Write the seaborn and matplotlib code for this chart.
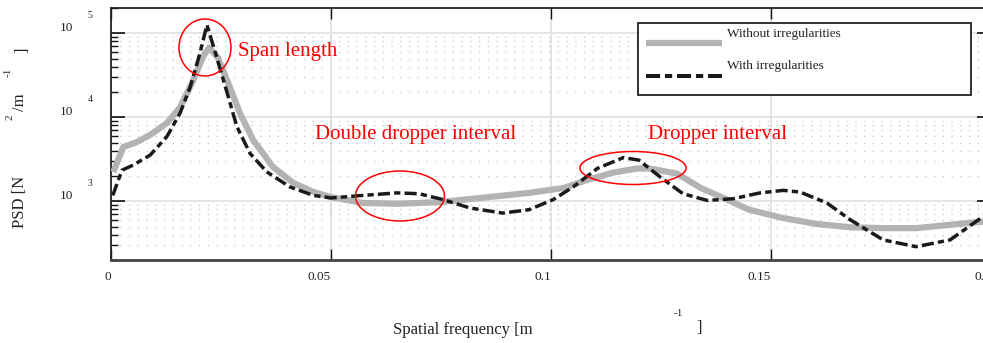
import numpy as np
import matplotlib
matplotlib.use("Agg")
import matplotlib.pyplot as plt
import matplotlib.transforms as mtransforms
from matplotlib.patches import Ellipse, Rectangle
from matplotlib.lines import Line2D
from matplotlib.ticker import LogLocator, NullFormatter
import seaborn as sns

# Spatial frequency [1/m] and contact-force PSD [N^2/m]
freq_smooth = [0.0005, 0.0028, 0.0059, 0.0089, 0.0127, 0.0157, 0.0187, 0.0209, 0.0223,
               0.0243, 0.0270, 0.0293, 0.0323, 0.0368, 0.0414, 0.0460, 0.0500, 0.0573,
               0.0650, 0.0748, 0.0840, 0.0950, 0.1030, 0.1080, 0.1140, 0.1195, 0.1225,
               0.1286, 0.1340, 0.1400, 0.1450, 0.1528, 0.1604, 0.1680, 0.1755, 0.1830,
               0.1907, 0.1985]
psd_smooth = [2230, 4430, 5080, 6170, 8510, 13180, 27540, 52480, 67600,
              51290, 22910, 11220, 5370, 2570, 1660, 1290, 1120, 955,
              933, 977, 1096, 1259, 1445, 1778, 2188, 2455, 2455,
              2138, 1445, 1047, 794, 631, 537, 490, 479, 479,
              525, 575]

freq_irreg = [0.0004, 0.0025, 0.0050, 0.0089, 0.0127, 0.0157, 0.0180, 0.0202, 0.0218,
              0.0240, 0.0264, 0.0286, 0.0316, 0.0354, 0.0407, 0.0460, 0.0500, 0.0573,
              0.0650, 0.0700, 0.0755, 0.0816, 0.0890, 0.0950, 0.1005, 0.1050, 0.1105,
              0.1164, 0.1200, 0.1248, 0.1300, 0.1355, 0.1414, 0.1475, 0.1528, 0.1566,
              0.1627, 0.1680, 0.1755, 0.1830, 0.1907, 0.1985]
psd_irreg = [1175, 2344, 2692, 3548, 5888, 11220, 22910, 57540, 125900,
             52480, 19500, 7762, 3715, 2239, 1479, 1175, 1096, 1175,
             1259, 1230, 1047, 832, 724, 794, 1047, 1479, 2455,
             3311, 3090, 1950, 1230, 1023, 1072, 1259, 1349, 1288,
             955, 603, 347, 288, 347, 676]

series_labels = ["Without irregularities", "With irregularities"]
x_ticks = [0, 0.05, 0.1, 0.15, 0.2]
x_tick_labels = ["0", "0.05", "0.1", "0.15", "0.2"]
y_decades = [3, 4, 5]
notes = ["Span length", "Double dropper interval", "Dropper interval"]

sns.set_style("ticks")
plt.rcParams["font.family"] = ["Liberation Serif", "DejaVu Serif"]
plt.rcParams["mathtext.fontset"] = "stix"

W, H = 983, 343
fig = plt.figure(figsize=(W / 100, H / 100), dpi=100)
ax = fig.add_axes([111 / W, 1 - 260 / H, 880 / W, 252 / H])

GRAY = "#b3b3b3"
BLACK = "#1a1a1a"
DASH = (0, (3.5, 1.2, 1.8, 1.2))

sns.lineplot(x=freq_smooth, y=psd_smooth, ax=ax, color=GRAY, linewidth=4.5,
             solid_capstyle="butt", zorder=3)
sns.lineplot(x=freq_irreg, y=psd_irreg, ax=ax, color=BLACK, linewidth=2.5,
             linestyle=DASH, zorder=4)

ax.set_yscale("log")
ax.set_xlim(0, 0.2)
ax.set_ylim(200, 2e5)
ax.yaxis.set_minor_locator(LogLocator(base=10, subs=np.arange(2, 10)))
ax.yaxis.set_minor_formatter(NullFormatter())

ax.set_xticks(x_ticks)
ax.set_xticklabels(x_tick_labels, fontsize=9.5, color="#222222")
for lab in ax.get_xticklabels():
    lab.set_ha("right")
ax.set_yticks([10.0 ** d for d in y_decades])

ax.tick_params(axis="x", which="major", direction="in", length=8, width=1.0,
               top=True, bottom=True, pad=8, color="#111111")
ax.tick_params(axis="y", which="major", direction="in", length=10, width=1.2,
               left=True, right=True, labelleft=False, color="#111111")
ax.tick_params(axis="y", which="minor", direction="in", length=5, width=1.0,
               left=True, right=True, color="#111111")

ax.grid(which="major", axis="both", color="#e2e2e2", linewidth=1.3, linestyle="-", zorder=0)
ax.grid(which="minor", axis="y", color="#c4c4c4", linewidth=0.9,
        linestyle=(0, (1, 6)), zorder=0)
ax.set_axisbelow(True)

for side, sp in ax.spines.items():
    sp.set_color("#222222")
    sp.set_linewidth(1.3)
ax.spines["bottom"].set_linewidth(2.0)
ax.spines["bottom"].set_color("#444444")

# y tick labels written as "10" with a raised exponent
blend = mtransforms.blended_transform_factory(ax.transAxes, ax.transData)
for d in y_decades:
    base_tr = blend + mtransforms.ScaledTranslation(0, 5 / 100, fig.dpi_scale_trans)
    exp_tr = blend + mtransforms.ScaledTranslation(0, 18 / 100, fig.dpi_scale_trans)
    ax.text(-45 / 880, 10.0 ** d, "10", transform=base_tr, ha="center", va="center",
            fontsize=9.5, color="#222222", clip_on=False)
    ax.text(-21 / 880, 10.0 ** d, str(d), transform=exp_tr, ha="center", va="center",
            fontsize=7, color="#222222", clip_on=False)

# axis titles made of separate pieces
def ftext(px, py, s, **kw):
    fig.text(px / W, 1 - py / H, s, **kw)

ftext(20, 202, "PSD [N", rotation=90, ha="center", va="center", fontsize=12, color="#222222")
ftext(10, 117, "2", rotation=90, ha="center", va="center", fontsize=8, color="#222222")
ftext(20, 102, "/m", rotation=90, ha="center", va="center", fontsize=12, color="#222222")
ftext(8, 72, "-1", rotation=90, ha="center", va="center", fontsize=8, color="#222222")
ftext(22, 50, "]", rotation=90, ha="center", va="center", fontsize=12, color="#222222")

ftext(463, 330, "Spatial frequency [m", ha="center", va="center", fontsize=12, color="#222222")
ftext(678, 313, "-1", ha="center", va="center", fontsize=8, color="#222222")
ftext(699, 328, "]", ha="center", va="center", fontsize=12, color="#222222")

# highlighted regions
for (cx, cy, w, h) in [(0.1068, 0.8433, 0.0591, 0.2262),
                       (0.3284, 0.2540, 0.1011, 0.1984),
                       (0.5932, 0.3651, 0.1205, 0.1310)]:
    ax.add_patch(Ellipse((cx, cy), w, h, transform=ax.transAxes, fill=False,
                         edgecolor="red", linewidth=1.1, zorder=6))
for (tx, ty), s in zip([(0.1443, 0.8095), (0.2318, 0.480), (0.610, 0.480)], notes):
    ax.text(tx, ty, s, transform=ax.transAxes, color="red", fontsize=15,
            ha="left", va="baseline", zorder=6)

# legend box
ax.add_patch(Rectangle((0.5989, 0.6548), 0.3784, 0.2857, transform=ax.transAxes,
                       facecolor="white", edgecolor="#222222", linewidth=1.3, zorder=7))
ax.add_line(Line2D([0.6080, 0.6943], [0.861, 0.861], transform=ax.transAxes,
                   color=GRAY, linewidth=4.5, solid_capstyle="butt", zorder=8))
ax.add_line(Line2D([0.6080, 0.6943], [0.7313, 0.7313], transform=ax.transAxes,
                   color=BLACK, linewidth=2.9, linestyle=DASH, zorder=8))
ax.text(0.700, 0.886, series_labels[0], transform=ax.transAxes, fontsize=9.5,
        va="baseline", ha="left", color="#222222", zorder=8)
ax.text(0.700, 0.757, series_labels[1], transform=ax.transAxes, fontsize=9.5,
        va="baseline", ha="left", color="#222222", zorder=8)

fig.savefig("out.png", dpi=100)
